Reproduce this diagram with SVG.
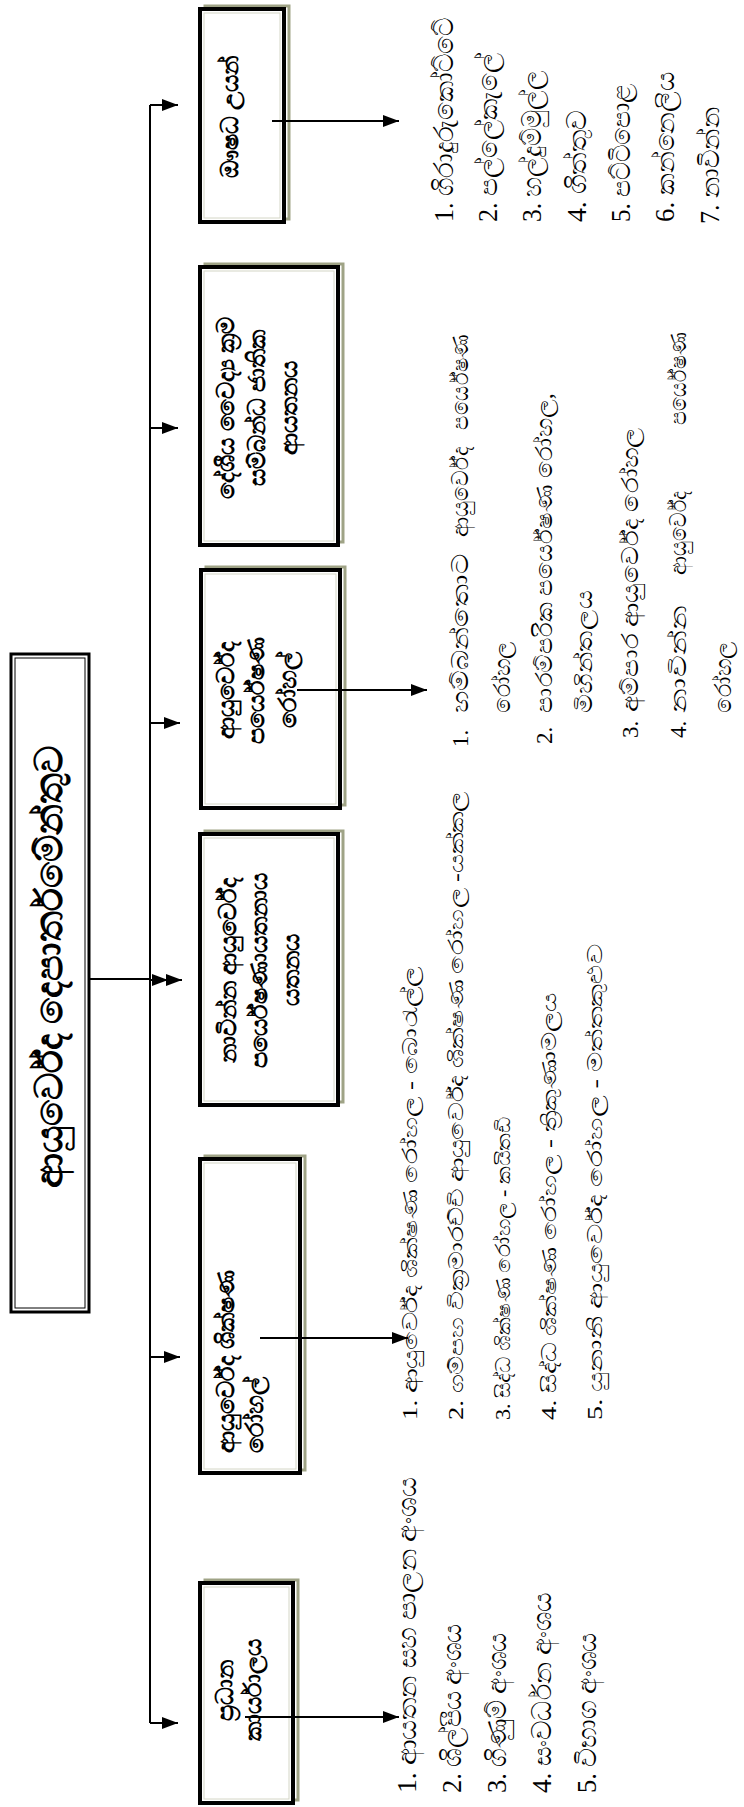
<svg xmlns="http://www.w3.org/2000/svg" width="744" height="1807" viewBox="0 0 744 1807">
<style>
.bg{fill:#fff}
.box{fill:#fff;stroke:#000;stroke-width:4}
.shd{fill:none;stroke:#9fa386;stroke-width:3}
.inr{fill:none;stroke:#d4d6c6;stroke-width:1}
.lbl{font-family:"Noto Sans","DejaVu Sans",sans-serif;font-size:24px;font-weight:bold;fill:#000}
.ttl{font-family:"Noto Sans","DejaVu Sans",sans-serif;font-size:38px;font-weight:bold;fill:#000}
.lst{font-family:"Liberation Serif","Noto Sans",serif;font-size:27px;fill:#000}
.lstm{font-family:"Liberation Serif","Noto Sans",serif;font-size:23px;fill:#000}
.lsts{font-family:"Liberation Serif","Noto Sans",serif;font-size:20px;fill:#000}
.conn{stroke:#000;stroke-width:2;fill:none}
</style>
<defs>
<marker id="ah" markerUnits="userSpaceOnUse" markerWidth="16" markerHeight="12" viewBox="0 0 16 12" refX="16" refY="6" orient="auto">
<path d="M0,0 L16,6 L0,12 z" fill="#000"/>
</marker>
</defs>
<rect class="bg" x="0" y="0" width="744" height="1807"/>

<g id="title">
<rect x="11" y="654" width="78" height="658" fill="#fff" stroke="#000" stroke-width="3"/>
<rect x="15" y="658" width="70" height="650" fill="none" stroke="#000" stroke-width="1"/>
<text class="ttl" transform="translate(62,967) rotate(-90)" text-anchor="middle">ආයුර්වේද දෙපාර්තමේන්තුව</text>
</g>

<g id="connectors">
<line class="conn" x1="89" y1="979" x2="150" y2="979"/>
<line class="conn" x1="150" y1="105" x2="150" y2="1723"/>
<line class="conn" x1="150" y1="105" x2="178" y2="105" marker-end="url(#ah)"/>
<line class="conn" x1="150" y1="428" x2="178" y2="428" marker-end="url(#ah)"/>
<line class="conn" x1="150" y1="723" x2="180" y2="723" marker-end="url(#ah)"/>
<polyline class="conn" points="150,980 168,980 182,980" marker-mid="url(#ah)" marker-end="url(#ah)"/>
<line class="conn" x1="150" y1="1357" x2="180" y2="1357" marker-end="url(#ah)"/>
<line class="conn" x1="150" y1="1723" x2="178" y2="1723" marker-end="url(#ah)"/>
</g>

<g id="n-osadha">
<rect class="shd" x="205" y="6" width="84" height="213"/>
<rect class="box" x="200" y="9" width="84" height="213"/>
<rect class="inr" x="204" y="13" width="76" height="205"/>
<text class="lbl" transform="translate(238,117) rotate(-90)" text-anchor="middle">ඖෂධ උයන්</text>
</g>

<g id="n-deshiya">
<rect class="shd" x="205" y="264" width="138" height="278"/>
<rect class="box" x="200" y="267" width="138" height="278"/>
<rect class="inr" x="204" y="271" width="130" height="270"/>
<text class="lbl" transform="translate(234,408) rotate(-90)" text-anchor="middle">දේශීය වෛද්‍ය ක්‍රම</text>
<text class="lbl" transform="translate(265,408) rotate(-90)" text-anchor="middle">සම්බන්ධ ජාතික</text>
<text class="lbl" transform="translate(297,408) rotate(-90)" text-anchor="middle">ආයතනය</text>
</g>

<g id="n-paryeshana">
<rect class="shd" x="206" y="567" width="139" height="238"/>
<rect class="box" x="201" y="570" width="139" height="238"/>
<rect class="inr" x="205" y="574" width="131" height="230"/>
<text class="lbl" transform="translate(234,690) rotate(-90)" text-anchor="middle">ආයුර්වේද</text>
<text class="lbl" transform="translate(264,690) rotate(-90)" text-anchor="middle">පර්යේෂණ</text>
<text class="lbl" transform="translate(296,690) rotate(-90)" text-anchor="middle">රෝහල්</text>
</g>

<g id="n-navinna">
<rect class="shd" x="205" y="831" width="138" height="271"/>
<rect class="box" x="200" y="834" width="138" height="271"/>
<rect class="inr" x="204" y="838" width="130" height="263"/>
<text class="lbl" transform="translate(236,970) rotate(-90)" text-anchor="middle">නාවින්න ආයුර්වේද</text>
<text class="lbl" transform="translate(267,970) rotate(-90)" text-anchor="middle">පර්යේෂණායතනාය</text>
<text class="lbl" transform="translate(299,970) rotate(-90)" text-anchor="middle">යතනය</text>
</g>

<g id="n-shikshana">
<rect class="shd" x="205" y="1156" width="100" height="314"/>
<rect class="box" x="200" y="1159" width="100" height="314"/>
<rect class="inr" x="204" y="1163" width="92" height="306"/>
<text class="lbl" transform="translate(234,1453) rotate(-90)">ආයුර්වේද ශික්ෂණ</text>
<text class="lbl" transform="translate(263,1453) rotate(-90)">රෝහල්</text>
</g>

<g id="n-pradhana">
<rect class="shd" x="205" y="1580" width="93" height="220"/>
<rect class="box" x="200" y="1583" width="93" height="220"/>
<rect class="inr" x="204" y="1587" width="85" height="212"/>
<text class="lbl" transform="translate(233,1690) rotate(-90)" text-anchor="middle">ප්‍රධාන</text>
<text class="lbl" transform="translate(261,1690) rotate(-90)" text-anchor="middle">කාර්යාලය</text>
</g>

<g id="out-connectors">
<line class="conn" x1="272" y1="121" x2="399" y2="121" marker-end="url(#ah)"/>
<line class="conn" x1="297" y1="690" x2="427" y2="690" marker-end="url(#ah)"/>
<line class="conn" x1="260" y1="1338" x2="408" y2="1338" marker-end="url(#ah)"/>
<line class="conn" x1="245" y1="1717" x2="399" y2="1717" marker-end="url(#ah)"/>
</g>

<g id="list-osadha">
<text class="lst" transform="translate(453,222) rotate(-90)" textLength="204" lengthAdjust="spacingAndGlyphs">1. ගිරාදුරුකෝට්ටේ</text>
<text class="lst" transform="translate(497,222) rotate(-90)" textLength="169" lengthAdjust="spacingAndGlyphs">2. පල්ලේකැලේ</text>
<text class="lst" transform="translate(541,222) rotate(-90)" textLength="152" lengthAdjust="spacingAndGlyphs">3. හල්දුම්මුල්ල</text>
<text class="lst" transform="translate(586,222) rotate(-90)" textLength="112" lengthAdjust="spacingAndGlyphs">4. ගිත්තුව</text>
<text class="lst" transform="translate(630,222) rotate(-90)" textLength="139" lengthAdjust="spacingAndGlyphs">5. පට්ටිපොළ</text>
<text class="lst" transform="translate(674,222) rotate(-90)" textLength="150" lengthAdjust="spacingAndGlyphs">6. කන්නෙලිය</text>
<text class="lst" transform="translate(719,224) rotate(-90)" textLength="117" lengthAdjust="spacingAndGlyphs">7. නාවින්න</text>
</g>

<g id="list-paryeshana">
<text class="lstm" transform="translate(468,747) rotate(-90)">1.</text>
<text class="lstm" transform="translate(468,713) rotate(-90)" textLength="160" lengthAdjust="spacingAndGlyphs">හම්බන්තොට</text>
<text class="lstm" transform="translate(468,537) rotate(-90)" textLength="90" lengthAdjust="spacingAndGlyphs">ආයුර්වේද</text>
<text class="lstm" transform="translate(468,430) rotate(-90)" textLength="96" lengthAdjust="spacingAndGlyphs">පර්යේෂණ</text>
<text class="lstm" transform="translate(510,713) rotate(-90)" textLength="72" lengthAdjust="spacingAndGlyphs">රෝහල</text>
<text class="lstm" transform="translate(552,744) rotate(-90)">2.</text>
<text class="lstm" transform="translate(552,713) rotate(-90)" textLength="320" lengthAdjust="spacingAndGlyphs">පාරම්පරික පර්යේෂණ රෝහල,</text>
<text class="lstm" transform="translate(592,713) rotate(-90)" textLength="123" lengthAdjust="spacingAndGlyphs">මිහින්තලය</text>
<text class="lstm" transform="translate(638,738) rotate(-90)">3.</text>
<text class="lstm" transform="translate(638,712) rotate(-90)" textLength="285" lengthAdjust="spacingAndGlyphs">අම්පාර ආයුර්වේද රෝහල</text>
<text class="lstm" transform="translate(686,738) rotate(-90)">4.</text>
<text class="lstm" transform="translate(686,713) rotate(-90)" textLength="108" lengthAdjust="spacingAndGlyphs">නාවින්න</text>
<text class="lstm" transform="translate(686,575) rotate(-90)" textLength="84" lengthAdjust="spacingAndGlyphs">ආයුර්වේද</text>
<text class="lstm" transform="translate(686,425) rotate(-90)" textLength="93" lengthAdjust="spacingAndGlyphs">පර්යේෂණ</text>
<text class="lstm" transform="translate(731,713) rotate(-90)" textLength="72" lengthAdjust="spacingAndGlyphs">රෝහල</text>
</g>

<g id="list-shikshana">
<text class="lsts" transform="translate(417,1420) rotate(-90)" textLength="453" lengthAdjust="spacingAndGlyphs">1. ආයුර්වේද ශික්ෂණ රෝහල - බොරැල්ල</text>
<text class="lsts" transform="translate(463,1420) rotate(-90)" textLength="628" lengthAdjust="spacingAndGlyphs">2. ගම්පහ වික්‍රමාරච්චි ආයුර්වේද ශික්ෂණ රෝහල -යක්කල</text>
<text class="lsts" transform="translate(510,1420) rotate(-90)" textLength="303" lengthAdjust="spacingAndGlyphs">3. සිද්ධ ශික්ෂණ රෝහල - කයිතඩි</text>
<text class="lsts" transform="translate(556,1420) rotate(-90)" textLength="427" lengthAdjust="spacingAndGlyphs">4. සිද්ධ ශික්ෂණ රෝහල - ත්‍රිකුණාමලය</text>
<text class="lsts" transform="translate(602,1420) rotate(-90)" textLength="476" lengthAdjust="spacingAndGlyphs">5. යුනානි ආයුර්වේද රෝහල - මත්තකුළුව</text>
</g>

<g id="list-pradhana">
<text class="lst" transform="translate(416,1793) rotate(-90)" textLength="315" lengthAdjust="spacingAndGlyphs">1. ආයතන සහ පාලන අංශය</text>
<text class="lst" transform="translate(461,1793) rotate(-90)" textLength="169" lengthAdjust="spacingAndGlyphs">2. ශිල්පීය අංශය</text>
<text class="lst" transform="translate(506,1793) rotate(-90)" textLength="160" lengthAdjust="spacingAndGlyphs">3. ගිණුම් අංශය</text>
<text class="lst" transform="translate(551,1793) rotate(-90)" textLength="200" lengthAdjust="spacingAndGlyphs">4. සංවර්ධන අංශය</text>
<text class="lst" transform="translate(596,1793) rotate(-90)" textLength="160" lengthAdjust="spacingAndGlyphs">5. විභාග අංශය</text>
</g>
</svg>
